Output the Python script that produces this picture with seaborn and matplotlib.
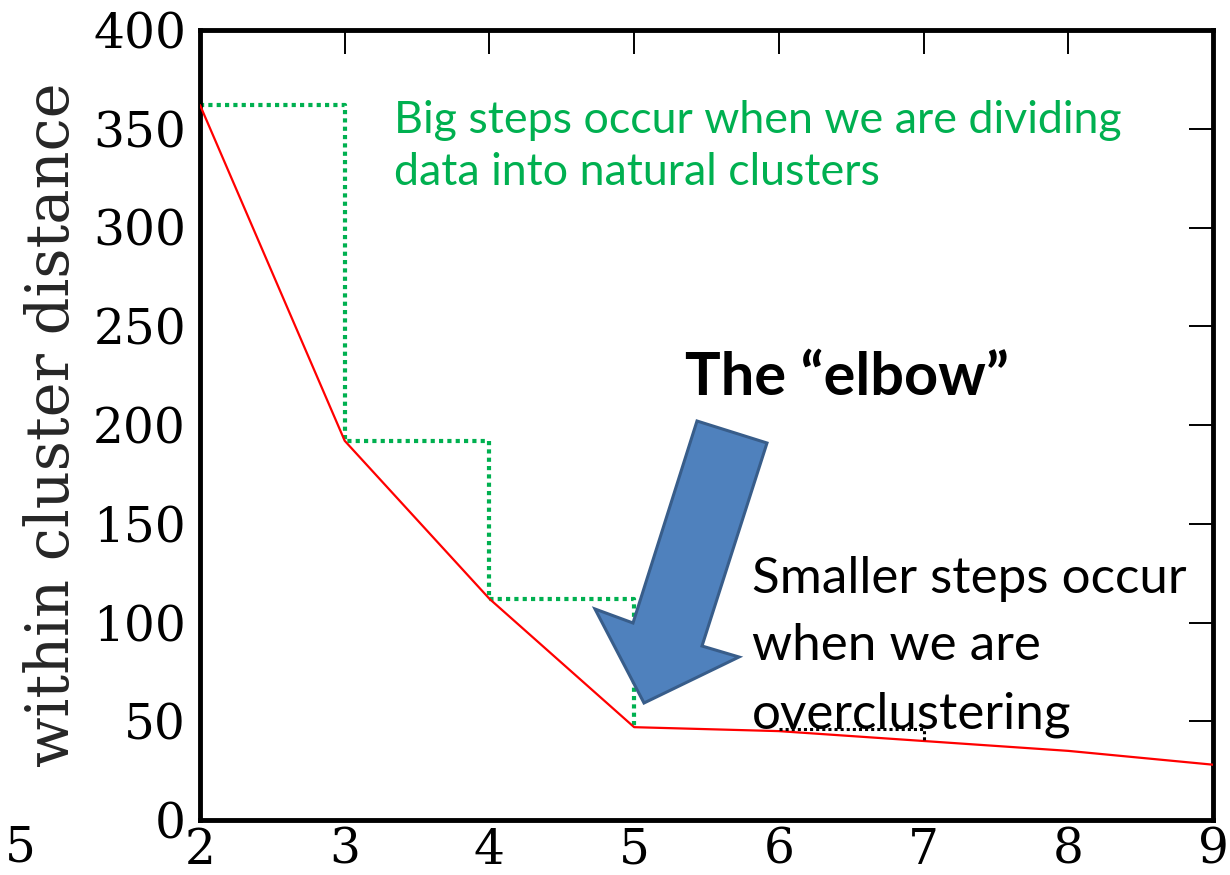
import matplotlib
matplotlib.use("Agg")
import matplotlib.pyplot as plt
import seaborn as sns
import pandas as pd
from matplotlib.patches import Polygon

# ---- data ----
k_values = [2, 3, 4, 5, 6, 7, 8, 9]
within_dist = [362, 192, 112, 47, 45, 40, 35, 28]
big_step_k = [2, 3, 4, 5]
big_step_dist = [362, 192, 112, 47]
small_step_k = [6, 7]
small_step_dist = [46, 40]
x_ticks = [2, 3, 4, 5, 6, 7, 8, 9]
y_ticks = [0, 50, 100, 150, 200, 250, 300, 350, 400]
ylabel = "within cluster distance"
green_text = ["Big steps occur when we are dividing", "data into natural clusters"]
elbow_text = "The \u201celbow\u201d"
small_text = ["Smaller steps occur", "when we are", "overclustering"]
stray_label = "5"

sns.set_theme(style="white")
plt.rcParams["font.family"] = ["DejaVu Serif"]

W, H, DPI = 1230, 875, 100
fig = plt.figure(figsize=(W / DPI, H / DPI), dpi=DPI)
ax = fig.add_axes([200 / W, 1 - 820 / H, 1013 / W, 790 / H])

df = pd.DataFrame({"k": k_values, "d": within_dist})
sns.lineplot(data=df, x="k", y="d", ax=ax, color="#FF0000", lw=1.6, zorder=3)

gdf = pd.DataFrame({"k": big_step_k, "d": big_step_dist})
sns.lineplot(data=gdf, x="k", y="d", ax=ax, color="#00B050", lw=3.0,
             drawstyle="steps-post", linestyle=(0, (1, 1.0)), zorder=2)

bdf = pd.DataFrame({"k": small_step_k, "d": small_step_dist})
sns.lineplot(data=bdf, x="k", y="d", ax=ax, color="black", lw=2.2,
             drawstyle="steps-post", linestyle=(0, (1, 1.0)), zorder=4)

ax.set_xlim(2, 9)
ax.set_ylim(0, 400)
ax.set_xticks(x_ticks)
ax.set_yticks(y_ticks)
ax.set_xticklabels([str(v) for v in x_ticks])
ax.set_yticklabels([str(v) for v in y_ticks])
ax.set_xlabel("")
ax.set_ylabel(ylabel, fontsize=42.5, family="DejaVu Serif")
ax.yaxis.set_label_coords(-0.117, 0.5)

for s in ax.spines.values():
    s.set_visible(True)
    s.set_color("black")
    s.set_linewidth(3.5)
ax.tick_params(axis="both", which="major", direction="in", length=17, width=1.4,
               color="black", top=True, right=True, labelsize=35,
               labelcolor="black")
ax.tick_params(axis="x", pad=5)
ax.tick_params(axis="y", pad=10)
for lab in ax.get_xticklabels() + ax.get_yticklabels():
    lab.set_family("DejaVu Serif")

# px -> data helpers for annotation placement
def px2d(px, py):
    return 2 + (px - 200) / (1013 / 7), (820 - py) / (790 / 400)

# arrow polygon (pixel-space outline converted to data coords)
arrow_px = [(697, 421), (767, 443), (702, 646), (739, 657), (644, 703),
            (595, 609), (633, 623)]
poly = Polygon([px2d(*p) for p in arrow_px], closed=True, facecolor="#4F81BD",
               edgecolor="#385D8A", lw=2.2, joinstyle="miter", zorder=5)
ax.add_patch(poly)

sans = ["Lato", "DejaVu Sans"]
for i, line in enumerate(green_text):
    gx, gy = px2d(394, 133 + i * 52)
    ax.text(gx, gy, line, color="#00B050", fontsize=32.2, family=sans,
            ha="left", va="baseline", zorder=6)

ex, ey = px2d(685, 395)
ax.text(ex, ey, elbow_text, color="black", fontsize=42.8, fontweight="bold",
        family=sans, ha="left", va="baseline", zorder=6)

for i, line in enumerate(small_text):
    sx, sy = px2d(752, 593 + i * 67.5)
    ax.text(sx, sy, line, color="black", fontsize=36.8, family=sans,
            ha="left", va="baseline", zorder=6)

fig.text(20 / W, 1 - 848 / H, stray_label, fontsize=35, family="DejaVu Serif",
         ha="center", va="center", color="black")

fig.savefig("out.png", dpi=DPI, facecolor="white")
